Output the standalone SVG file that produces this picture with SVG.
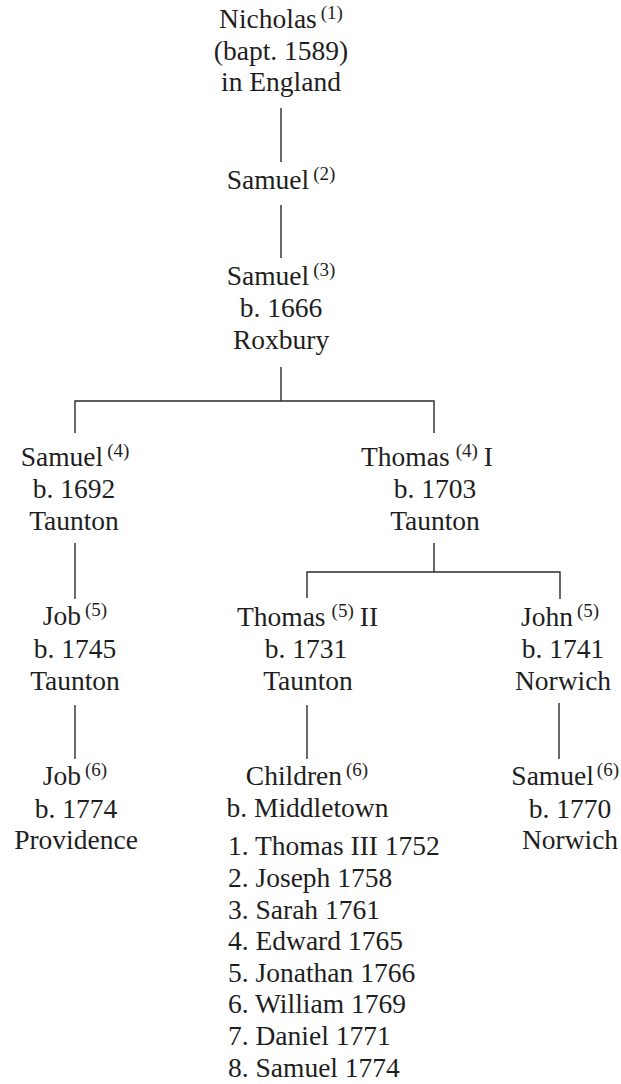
<svg xmlns="http://www.w3.org/2000/svg" width="621" height="1084" viewBox="0 0 621 1084">
<style>
.t{font-family:"Liberation Serif","Times New Roman",serif;font-size:27.5px;fill:#1e1e1e;text-anchor:middle}
.l{font-family:"Liberation Serif","Times New Roman",serif;font-size:27.5px;fill:#1e1e1e;text-anchor:start}
.sup{font-size:19px}
.c{stroke:#2a2a2a;stroke-width:1.4;fill:none}
</style>
<rect width="621" height="1084" fill="#ffffff"/>
<g id="connectors">
<path class="c" d="M281,108V162"/>
<path class="c" d="M281,205V258"/>
<path class="c" d="M281,367V401M75,433V401H434V433"/>
<path class="c" d="M75,543V599"/>
<path class="c" d="M434,543V572M307,598V572H560V599"/>
<path class="c" d="M75,705V759"/>
<path class="c" d="M307,705V759"/>
<path class="c" d="M559,703V759"/>
</g>
<g id="nicholas1">
<text class="t" x="281" y="28">Nicholas<tspan class="sup" dx="4" dy="-9">(1)</tspan></text>
<text class="t" x="281" y="60">(bapt. 1589)</text>
<text class="t" x="281" y="91">in England</text>
</g>
<g id="samuel2">
<text class="t" x="281" y="189">Samuel<tspan class="sup" dx="4" dy="-9">(2)</tspan></text>
</g>
<g id="samuel3">
<text class="t" x="281" y="285">Samuel<tspan class="sup" dx="4" dy="-9">(3)</tspan></text>
<text class="t" x="281" y="317">b. 1666</text>
<text class="t" x="281" y="349">Roxbury</text>
</g>
<g id="samuel4">
<text class="t" x="75" y="466">Samuel<tspan class="sup" dx="4" dy="-9">(4)</tspan></text>
<text class="t" x="74" y="498">b. 1692</text>
<text class="t" x="74" y="530">Taunton</text>
</g>
<g id="thomas4">
<text class="t" x="427" y="466">Thomas<tspan class="sup" dx="6" dy="-9">(4)</tspan><tspan dx="6" dy="9">I</tspan></text>
<text class="t" x="435" y="498">b. 1703</text>
<text class="t" x="435" y="530">Taunton</text>
</g>
<g id="job5">
<text class="t" x="75" y="625">Job<tspan class="sup" dx="4" dy="-9">(5)</tspan></text>
<text class="t" x="75" y="658">b. 1745</text>
<text class="t" x="75" y="690">Taunton</text>
</g>
<g id="thomas5">
<text class="t" x="307.5" y="626">Thomas<tspan class="sup" dx="6" dy="-9">(5)</tspan><tspan dx="6" dy="9">II</tspan></text>
<text class="t" x="306" y="658">b. 1731</text>
<text class="t" x="308" y="690">Taunton</text>
</g>
<g id="john5">
<text class="t" x="560" y="626">John<tspan class="sup" dx="4" dy="-9">(5)</tspan></text>
<text class="t" x="563" y="658">b. 1741</text>
<text class="t" x="563" y="690">Norwich</text>
</g>
<g id="job6">
<text class="t" x="75" y="785">Job<tspan class="sup" dx="4" dy="-9">(6)</tspan></text>
<text class="t" x="76" y="818">b. 1774</text>
<text class="t" x="76" y="849">Providence</text>
</g>
<g id="children6">
<text class="t" x="307" y="785">Children<tspan class="sup" dx="4" dy="-9">(6)</tspan></text>
<text class="t" x="307.5" y="817">b. Middletown</text>
<text class="l" x="228" y="855">1. Thomas III 1752</text>
<text class="l" x="228" y="887">2. Joseph 1758</text>
<text class="l" x="228" y="919">3. Sarah 1761</text>
<text class="l" x="228" y="950">4. Edward 1765</text>
<text class="l" x="228" y="982">5. Jonathan 1766</text>
<text class="l" x="228" y="1013">6. William 1769</text>
<text class="l" x="228" y="1045">7. Daniel 1771</text>
<text class="l" x="228" y="1077">8. Samuel 1774</text>
</g>
<g id="samuel6">
<text class="t" x="619" y="785" style="text-anchor:end">Samuel<tspan class="sup" dx="3" dy="-9">(6)</tspan></text>
<text class="t" x="570" y="818">b. 1770</text>
<text class="t" x="570" y="849">Norwich</text>
</g>
</svg>
